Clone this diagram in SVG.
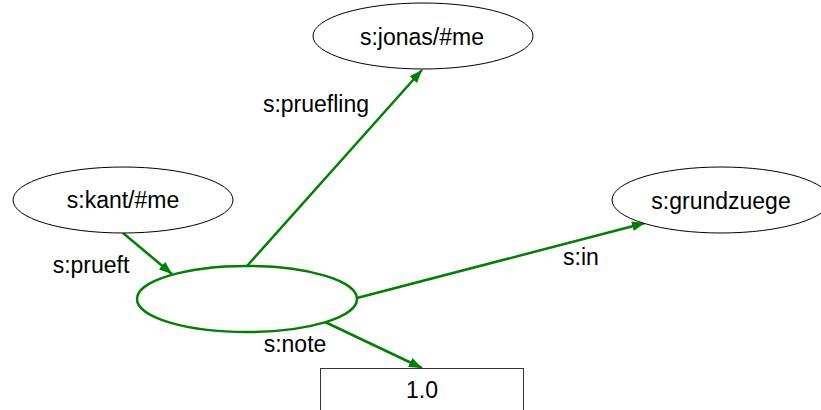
<svg xmlns="http://www.w3.org/2000/svg" width="821" height="410" viewBox="0 0 821 410">
  <style>
    .res { fill: #ffffff; stroke: #000000; stroke-width: 1; }
    .blank { fill: #ffffff; stroke: #008000; stroke-width: 2.5; }
    .lit { fill: #ffffff; stroke: #333333; stroke-width: 1; }
    .edge { fill: none; stroke: #008000; stroke-width: 2.5; marker-end: url(#arrow); }
    text { font-family: "Liberation Sans", Arial, sans-serif; font-size: 23px; fill: #000000; }
    .c { text-anchor: middle; }
  </style>
  <defs>
    <marker id="arrow" markerUnits="userSpaceOnUse" markerWidth="14" markerHeight="12" viewBox="0 0 14 12" refX="13" refY="6" orient="auto">
      <path d="M0,1 L13,6 L0,11 Z" fill="#008000"/>
    </marker>
  </defs>

  <g id="connectors">
    <line class="edge" x1="123" y1="233" x2="172" y2="274"/>
    <line class="edge" x1="247" y1="266" x2="422" y2="70"/>
    <line class="edge" x1="357" y1="298" x2="645" y2="223"/>
    <line class="edge" x1="325" y1="322" x2="422" y2="368"/>
    <text x="316" y="112" class="c">s:pruefling</text>
    <text x="91" y="273" class="c">s:prueft</text>
    <text x="581" y="265" class="c">s:in</text>
    <text x="295" y="352" class="c">s:note</text>
  </g>

  <g id="jonas">
    <ellipse class="res" cx="423" cy="36" rx="110" ry="33"/>
    <text x="422" y="45" class="c">s:jonas/#me</text>
  </g>

  <g id="kant">
    <ellipse class="res" cx="123" cy="200" rx="110" ry="33"/>
    <text x="123" y="208" class="c">s:kant/#me</text>
  </g>

  <g id="grundzuege">
    <ellipse class="res" cx="721" cy="200" rx="109" ry="33"/>
    <text x="721" y="209" class="c">s:grundzuege</text>
  </g>

  <g id="blank">
    <ellipse class="blank" cx="247" cy="299" rx="110" ry="33"/>
  </g>

  <g id="note-value">
    <rect class="lit" x="320.5" y="368.5" width="203" height="60"/>
    <text x="422" y="398" class="c">1.0</text>
  </g>
</svg>
